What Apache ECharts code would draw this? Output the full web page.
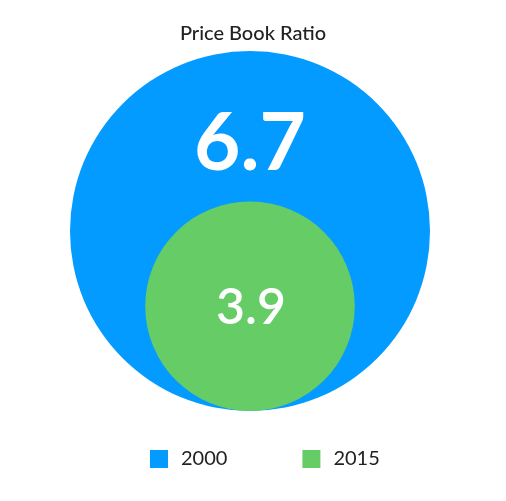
<!DOCTYPE html>
<html>
<head>
<meta charset="utf-8">
<script src="https://cdn.jsdelivr.net/npm/echarts@6/dist/echarts.min.js"></script>
<style>html,body{margin:0;padding:0;background:#fff}#c{width:506px;height:501px}</style>
</head>
<body>
<div id="c"></div>
<script>
var title = 'Price Book Ratio';
var years = ['2000', '2015'];
var values = [6.7, 3.9];
var colors = ['#039BFF', '#66CC66'];

var gridTop = 51, gridBottom = 90, gridHeight = 501 - gridTop - gridBottom;
var yMax = 2 * Math.max.apply(null, values);
var pxPerUnit = gridHeight / yMax;
var font = 'Lato';

var chart = echarts.init(document.getElementById('c'), null, {renderer: 'canvas'});
var series = years.map(function (y, i) {
  return {
    name: y,
    type: 'scatter',
    data: [[0, values[i]]],
    symbolSize: function (d) { return d[1] * 2 * pxPerUnit; },
    itemStyle: {color: colors[i], opacity: 1},
    emphasis: {disabled: true},
    z: 2 + i,
    label: {
      show: true,
      position: 'inside',
      offset: i === 0 ? [0, -87] : [1, 2],
      formatter: function (p) { return p.data[1].toFixed(1); },
      color: '#fff',
      fontFamily: font,
      fontSize: i === 0 ? 80 : 50,
      fontWeight: i === 0 ? 'bold' : 600
    }
  };
});

chart.setOption({
  animation: false,
  title: {
    text: title, left: 'center', top: 19,
    textStyle: {fontFamily: font, fontSize: 20, fontWeight: 500, color: '#222'}
  },
  legend: {
    data: years, bottom: 27, left: 145, padding: 5, icon: 'rect',
    itemWidth: 18, itemHeight: 18, itemGap: 75,
    textStyle: {fontFamily: font, fontSize: 20, color: '#222', padding: [0, 0, 0, 8]}
  },
  grid: {left: 70, right: 76, top: gridTop, bottom: gridBottom},
  xAxis: {type: 'value', min: -1, max: 1, show: false},
  yAxis: {type: 'value', min: 0, max: yMax, show: false},
  series: series
});
</script>
</body>
</html>
